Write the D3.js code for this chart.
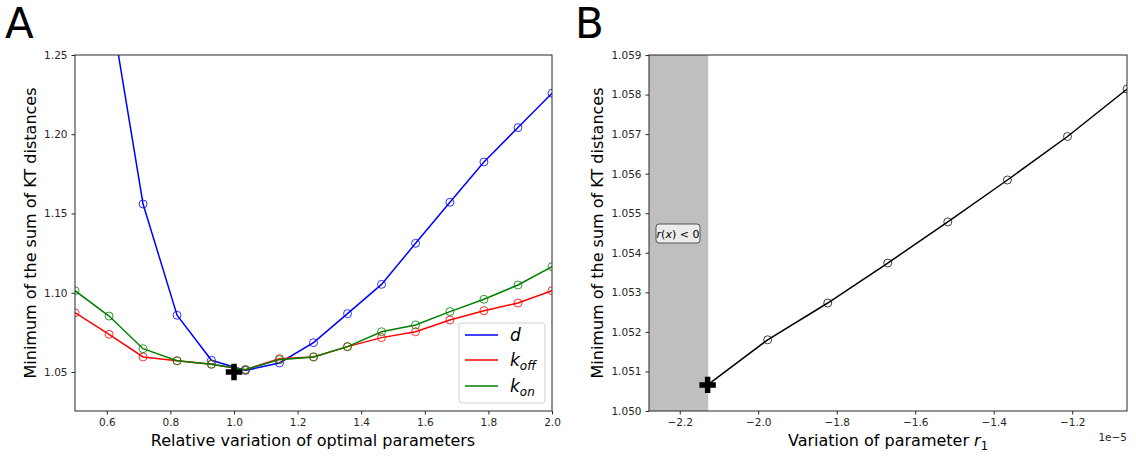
<!DOCTYPE html>
<html><head><meta charset="utf-8">
<script src="https://cdn.jsdelivr.net/npm/d3@7/dist/d3.min.js"></script>
<style>
body{margin:0;background:#fff;}
text{font-family:"DejaVu Sans",sans-serif;}
</style></head>
<body><svg id="c" width="1136" height="459"></svg>
<script>
// ---- Panel A data ----
const relVar = [0.5,0.607,0.714,0.821,0.929,1.036,1.143,1.25,1.357,1.464,1.571,1.679,1.786,1.893,2.0];
const dVals  = [1.45,1.286,1.156,1.0858,1.0574,1.051,1.0557,1.0685,1.0868,1.1053,1.1312,1.1571,1.1825,1.2042,1.2259];
const koffVals = [1.0874,1.0738,1.0595,1.0571,1.0549,1.0515,1.0584,1.0595,1.066,1.0717,1.0754,1.0828,1.0887,1.0935,1.1013];
const konVals  = [1.1013,1.0853,1.0647,1.0571,1.0549,1.0515,1.0578,1.0595,1.066,1.0754,1.0797,1.0881,1.0959,1.1049,1.1165];
const optA = [1.0, 1.0500];
const xTicksA = [0.6,0.8,1.0,1.2,1.4,1.6,1.8,2.0];
const yTicksA = [1.05,1.10,1.15,1.20,1.25];
// ---- Panel B data (x in units of 1e-5) ----
const r1Var = [-2.129,-1.976,-1.823,-1.670,-1.517,-1.365,-1.212,-1.060];
const r1Vals = [1.05066,1.0518,1.05273,1.05374,1.05478,1.05584,1.05694,1.05814];
const negRegion = [-2.2784,-2.1275];
const xTicksB = [-2.2,-2.0,-1.8,-1.6,-1.4,-1.2];
const yTicksB = [1.050,1.051,1.052,1.053,1.054,1.055,1.056,1.057,1.058,1.059];

const svg = d3.select("#c");
const axisColor = "#262626";

function drawAxes(g, x, y, xt, yt, xf, yf){
  const [x0,x1] = x.range(), [y0,y1] = y.range();
  const xa = g.append("g").attr("transform",`translate(0,${y0})`)
    .call(d3.axisBottom(x).tickValues(xt).tickFormat(xf).tickSize(3.5).tickSizeOuter(0).tickPadding(4));
  const ya = g.append("g").attr("transform",`translate(${x0},0)`)
    .call(d3.axisLeft(y).tickValues(yt).tickFormat(yf).tickSize(3.5).tickSizeOuter(0).tickPadding(4));
  [xa,ya].forEach(a=>{
    a.select(".domain").remove();
    a.selectAll("line").attr("stroke",axisColor);
    a.selectAll("text").attr("font-size",10.5).attr("fill","#262626").attr("font-family","DejaVu Sans");
  });
  g.append("rect").attr("x",x0).attr("y",y1).attr("width",x1-x0).attr("height",y0-y1)
    .attr("fill","none").attr("stroke",axisColor).attr("stroke-width",1);
}

// ================= Panel A =================
const xA = d3.scaleLinear().domain([0.5,2.0]).range([75,552]);
const yA = d3.scaleLinear().domain([1.0254,1.25]).range([411,55]);
const gA = svg.append("g");
gA.append("clipPath").attr("id","clipA").append("rect")
  .attr("x",75).attr("y",55).attr("width",477).attr("height",356);
const plotA = gA.append("g").attr("clip-path","url(#clipA)");
const seriesA = [
  {name:"d", vals:dVals, color:"#0000ff"},
  {name:"koff", vals:koffVals, color:"#ff0000"},
  {name:"kon", vals:konVals, color:"#008000"}
];
const lineA = d3.line().x(d=>xA(d[0])).y(d=>yA(d[1]));
seriesA.forEach(s=>{
  const pts = relVar.map((v,i)=>[v,s.vals[i]]);
  plotA.append("path").datum(pts).attr("d",lineA).attr("fill","none")
    .attr("stroke",s.color).attr("stroke-width",1.5);
  plotA.selectAll(null).data(pts).enter().append("circle")
    .attr("cx",d=>xA(d[0])).attr("cy",d=>yA(d[1])).attr("r",4)
    .attr("fill","none").attr("stroke",s.color).attr("stroke-width",1).attr("stroke-opacity",0.8);
});
plotA.append("path").attr("d",d3.symbol(d3.symbolCross,150)())
  .attr("transform",`translate(${xA(optA[0])},${yA(optA[1])})`).attr("fill","#000");
drawAxes(gA,xA,yA,xTicksA,yTicksA,d3.format(".1f"),d3.format(".2f"));

// legend A
const lg = gA.append("g");
lg.append("rect").attr("x",459).attr("y",323).attr("width",86).attr("height",80).attr("rx",3)
  .attr("fill","#fff").attr("fill-opacity",0.8).attr("stroke","#d0d0d0");
const legItems = [
  {main:"d", sub:"", color:"#0000ff", y:335},
  {main:"k", sub:"off", color:"#ff0000", y:360},
  {main:"k", sub:"on", color:"#008000", y:386}
];
legItems.forEach(it=>{
  lg.append("line").attr("x1",465).attr("x2",498).attr("y1",it.y).attr("y2",it.y)
    .attr("stroke",it.color).attr("stroke-width",1.5);
  const t = lg.append("text").attr("x",510).attr("y",it.y+6).attr("font-size",17)
    .attr("font-style","italic").attr("fill","#000");
  t.append("tspan").text(it.main);
  if(it.sub) t.append("tspan").attr("font-size",12).attr("dy",4).text(it.sub);
});

gA.append("text").attr("x",313).attr("y",446).attr("text-anchor","middle")
  .attr("font-size",16).attr("fill","#000").text("Relative variation of optimal parameters");
gA.append("text").attr("transform","translate(36,233) rotate(-90)").attr("text-anchor","middle")
  .attr("font-size",16).attr("fill","#000").text("Minimum of the sum of KT distances");
svg.append("text").attr("x",5).attr("y",38).attr("font-size",42)
  .attr("font-family","Open Sans, sans-serif").attr("fill","#000").text("A");

// ================= Panel B =================
const xB = d3.scaleLinear().domain([-2.2784,-1.0603]).range([649,1127]);
const yB = d3.scaleLinear().domain([1.050,1.059]).range([411,55]);
const gB = svg.append("g");
gB.append("clipPath").attr("id","clipB").append("rect")
  .attr("x",649).attr("y",55).attr("width",478).attr("height",356);
const plotB = gB.append("g").attr("clip-path","url(#clipB)");
plotB.append("rect").attr("x",xB(negRegion[0])).attr("y",55)
  .attr("width",xB(negRegion[1])-xB(negRegion[0])).attr("height",356).attr("fill","#bfbfbf");
const ptsB = r1Var.map((v,i)=>[v,r1Vals[i]]);
plotB.append("path").datum(ptsB)
  .attr("d",d3.line().x(d=>xB(d[0])).y(d=>yB(d[1])))
  .attr("fill","none").attr("stroke","#000").attr("stroke-width",1.5);
plotB.selectAll(null).data(ptsB.slice(1)).enter().append("circle")
  .attr("cx",d=>xB(d[0])).attr("cy",d=>yB(d[1])).attr("r",4)
  .attr("fill","none").attr("stroke","#000").attr("stroke-width",1).attr("stroke-opacity",0.75);
plotB.append("path").attr("d",d3.symbol(d3.symbolCross,150)())
  .attr("transform",`translate(${xB(ptsB[0][0])},${yB(ptsB[0][1])})`).attr("fill","#000");
const minus = v=>d3.format(".1f")(v).replace("-","\u2212");
drawAxes(gB,xB,yB,xTicksB,yTicksB,minus,d3.format(".3f"));

// annotation
gB.append("rect").attr("x",656).attr("y",224).attr("width",44).attr("height",19).attr("rx",3)
  .attr("fill","#ececec").attr("stroke","#555").attr("stroke-width",1);
const at = gB.append("text").attr("x",678).attr("y",238).attr("text-anchor","middle")
  .attr("font-size",11).attr("fill","#000");
at.append("tspan").attr("font-style","italic").text("r");
at.append("tspan").text("(");
at.append("tspan").attr("font-style","italic").text("x");
at.append("tspan").text(") < 0");

gB.append("text").attr("x",1127).attr("y",441).attr("text-anchor","end")
  .attr("font-size",10.5).attr("fill","#262626").text("1e\u22125");
const xl = gB.append("text").attr("x",888).attr("y",446).attr("text-anchor","middle")
  .attr("font-size",16).attr("fill","#000");
xl.append("tspan").text("Variation of parameter ");
xl.append("tspan").attr("font-style","italic").text("r");
xl.append("tspan").attr("font-size",11.5).attr("dy",4).text("1");
gB.append("text").attr("transform","translate(603,233) rotate(-90)").attr("text-anchor","middle")
  .attr("font-size",16).attr("fill","#000").text("Minimum of the sum of KT distances");
svg.append("text").attr("x",575).attr("y",38).attr("font-size",42)
  .attr("font-family","Open Sans, sans-serif").attr("fill","#000").text("B");
</script></body></html>
